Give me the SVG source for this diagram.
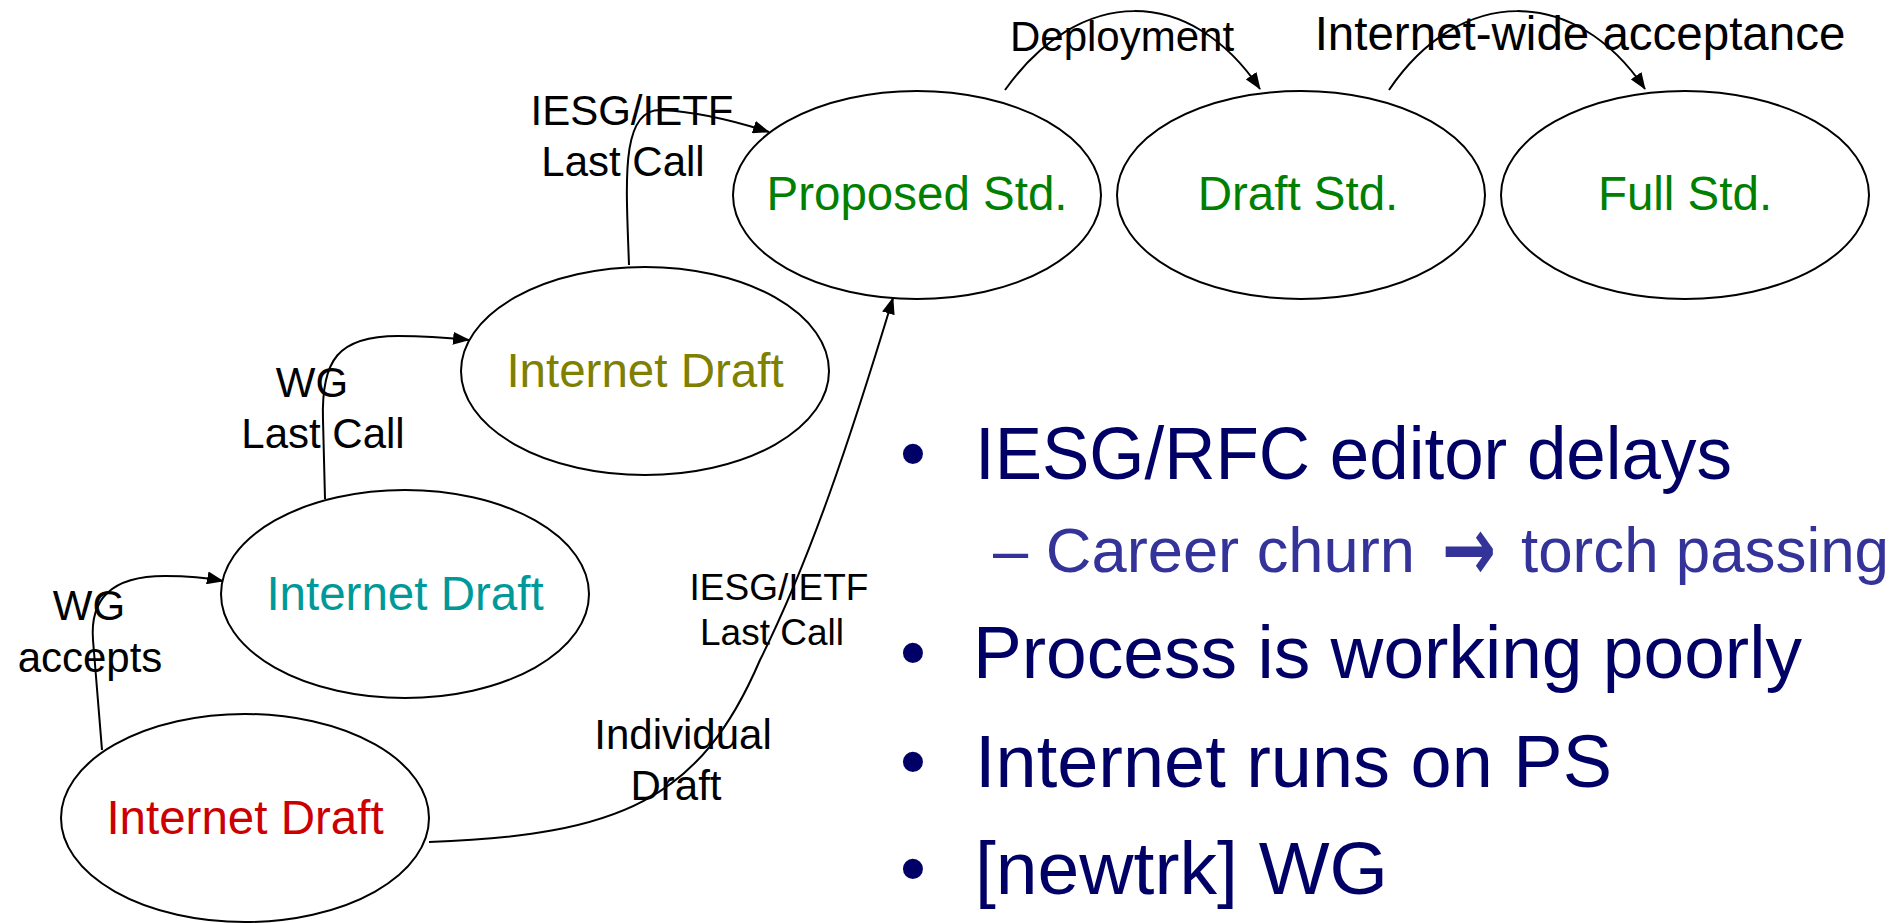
<svg xmlns="http://www.w3.org/2000/svg" width="1899" height="923" viewBox="0 0 1899 923">
<style>
.node ellipse{fill:#fff;stroke:#000;stroke-width:2}
.nl{font-family:"Liberation Sans",Arial,sans-serif;font-size:47.5px;text-anchor:middle}
.lbl{font-family:"Liberation Sans",Arial,sans-serif;fill:#000;text-anchor:middle}
.conn path{fill:none;stroke:#000;stroke-width:2}
.b{font-family:"Liberation Sans",Tahoma,sans-serif;fill:#000066;font-size:74px}
.s{font-family:"Liberation Sans",Tahoma,sans-serif;fill:#333399;font-size:63px}
.ar{font-family:"DejaVu Sans",sans-serif;fill:#333399;font-size:90px}
.dot{font-family:"Liberation Sans",sans-serif;fill:#000066;font-size:74px;text-anchor:middle}
</style>
<defs>
<marker id="ah" markerUnits="userSpaceOnUse" markerWidth="17" markerHeight="13" refX="16" refY="6.5" orient="auto">
<path d="M0,0 L17,6.5 L0,13 z" fill="#000"/>
</marker>
</defs>
<rect width="1899" height="923" fill="#fff"/>
<g id="connectors" class="conn">
<path d="M102,750 L93,640 C90,600 110,576 165,576 C190,576 208,578 223,581" marker-end="url(#ah)"/>
<path d="M325,499 L323,420 C321,360 338,336 398,336 C428,336 450,338 469,340" marker-end="url(#ah)"/>
<path d="M629,265 C626,180 620,108 662,110 C700,112 735,121 769,132" marker-end="url(#ah)"/>
<path d="M429,842 C620,835 700,800 760,660 C810,560 850,440 893,298" marker-end="url(#ah)"/>
<path d="M1005,90 C1080,-15 1190,-15 1260,89" marker-end="url(#ah)"/>
<path d="M1389,90 C1460,-15 1575,-15 1645,89" marker-end="url(#ah)"/>
</g>
<g id="node-id-red" class="node"><ellipse cx="245" cy="818" rx="184" ry="104"/><text class="nl" x="245" y="834" fill="#CC0000">Internet Draft</text></g>
<g id="node-id-teal" class="node"><ellipse cx="405" cy="594" rx="184" ry="104"/><text class="nl" x="405" y="610" fill="#009999">Internet Draft</text></g>
<g id="node-id-olive" class="node"><ellipse cx="645" cy="371" rx="184" ry="104"/><text class="nl" x="645" y="387" fill="#808000">Internet Draft</text></g>
<g id="node-proposed" class="node"><ellipse cx="917" cy="195" rx="184" ry="104"/><text class="nl" x="917" y="210" fill="#008000">Proposed Std.</text></g>
<g id="node-draft" class="node"><ellipse cx="1301" cy="195" rx="184" ry="104"/><text class="nl" x="1298" y="210" fill="#008000">Draft Std.</text></g>
<g id="node-full" class="node"><ellipse cx="1685" cy="195" rx="184" ry="104"/><text class="nl" x="1685" y="210" fill="#008000">Full Std.</text></g>
<g id="labels">
<text class="lbl" font-size="42" x="89" y="620">WG</text>
<text class="lbl" font-size="42" x="90" y="672">accepts</text>
<text class="lbl" font-size="42" x="312" y="397">WG</text>
<text class="lbl" font-size="42" x="323" y="448">Last Call</text>
<text class="lbl" font-size="42" x="632" y="125">IESG/IETF</text>
<text class="lbl" font-size="42" x="623" y="176">Last Call</text>
<text class="lbl" font-size="37" x="779" y="600">IESG/IETF</text>
<text class="lbl" font-size="37" x="772" y="645">Last Call</text>
<text class="lbl" font-size="42" x="683" y="749">Individual</text>
<text class="lbl" font-size="42" x="676" y="800">Draft</text>
<text class="lbl" font-size="42" x="1122" y="51">Deployment</text>
<text class="lbl" font-size="47.5" x="1580" y="50">Internet-wide acceptance</text>
</g>
<g id="bullets">
<text class="dot" x="913" y="479">•</text>
<text class="b" x="975" y="479" textLength="757" lengthAdjust="spacingAndGlyphs">IESG/RFC editor delays</text>
<text class="s" x="993" y="572" textLength="422" lengthAdjust="spacingAndGlyphs">– Career churn</text>
<text class="ar" x="1442" y="580" font-weight="bold" textLength="54" lengthAdjust="spacingAndGlyphs">→</text>
<text class="s" x="1521" y="572" textLength="368" lengthAdjust="spacingAndGlyphs">torch passing</text>
<text class="dot" x="913" y="678">•</text>
<text class="b" x="973" y="678" textLength="829" lengthAdjust="spacingAndGlyphs">Process is working poorly</text>
<text class="dot" x="913" y="787">•</text>
<text class="b" x="975" y="787" textLength="637" lengthAdjust="spacingAndGlyphs">Internet runs on PS</text>
<text class="dot" x="913" y="894">•</text>
<text class="b" x="975" y="894" textLength="413" lengthAdjust="spacingAndGlyphs">[newtrk] WG</text>
</g>
</svg>
